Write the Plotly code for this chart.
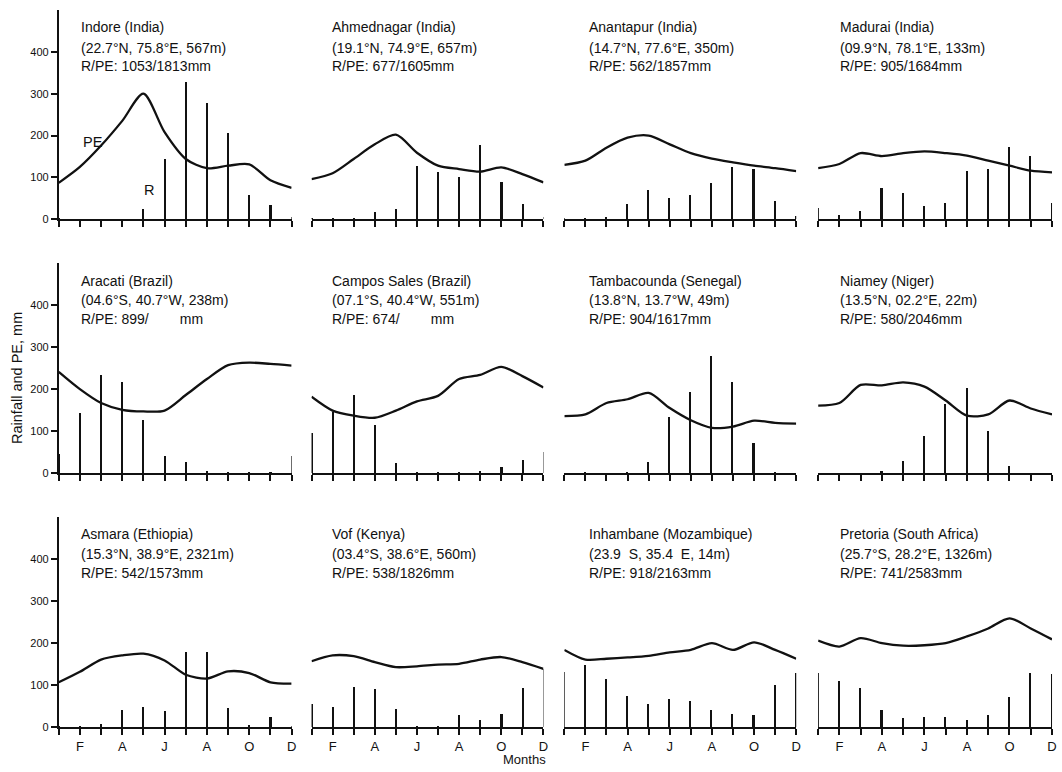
import plotly.graph_objects as go

W, H = 1062, 772

months = list(range(1, 13))
month_ticktext = ["", "F", "", "A", "", "J", "", "A", "", "O", "", "D"]
y_ticks = [0, 100, 200, 300, 400]

station_names = ["Indore (India)", "Ahmednagar (India)", "Anantapur (India)", "Madurai (India)",
                 "Aracati (Brazil)", "Campos Sales (Brazil)", "Tambacounda (Senegal)", "Niamey (Niger)",
                 "Asmara (Ethiopia)", "Vof (Kenya)", "Inhambane (Mozambique)", "Pretoria (South Africa)"]
station_coords = ["(22.7°N, 75.8°E, 567m)", "(19.1°N, 74.9°E, 657m)", "(14.7°N, 77.6°E, 350m)",
                  "(09.9°N, 78.1°E, 133m)", "(04.6°S, 40.7°W, 238m)", "(07.1°S, 40.4°W, 551m)",
                  "(13.8°N, 13.7°W, 49m)", "(13.5°N, 02.2°E, 22m)", "(15.3°N, 38.9°E, 2321m)",
                  "(03.4°S, 38.6°E, 560m)", "(23.9  S, 35.4  E, 14m)", "(25.7°S, 28.2°E, 1326m)"]
station_rpe = ["R/PE: 1053/1813mm", "R/PE: 677/1605mm", "R/PE: 562/1857mm", "R/PE: 905/1684mm",
               "R/PE: 899/        mm", "R/PE: 674/        mm", "R/PE: 904/1617mm", "R/PE: 580/2046mm",
               "R/PE: 542/1573mm", "R/PE: 538/1826mm", "R/PE: 918/2163mm", "R/PE: 741/2583mm"]

# Monthly rainfall (R), mm
indore_rain = [4, 0, 0, 0, 24, 144, 327, 278, 207, 57, 35, 5]
ahmednagar_rain = [2, 1, 3, 17, 25, 128, 112, 100, 178, 90, 37, 5]
anantapur_rain = [2, 3, 5, 37, 69, 50, 59, 86, 124, 120, 43, 8]
madurai_rain = [27, 11, 20, 75, 62, 33, 39, 116, 120, 174, 151, 39]
aracati_rain = [45, 144, 233, 218, 128, 42, 26, 5, 2, 2, 3, 41]
campos_rain = [96, 147, 186, 114, 24, 3, 2, 1, 5, 16, 31, 51]
tambacounda_rain = [0, 1, 0, 2, 28, 134, 193, 278, 218, 71, 2, 0]
niamey_rain = [0, 0, 0, 5, 30, 89, 165, 202, 100, 18, 0, 0]
asmara_rain = [2, 2, 8, 42, 49, 39, 178, 180, 45, 5, 25, 3]
voi_rain = [55, 49, 96, 90, 43, 3, 3, 29, 18, 31, 94, 139]
inhambane_rain = [132, 149, 114, 75, 55, 68, 63, 41, 31, 29, 100, 129]
pretoria_rain = [129, 111, 94, 41, 22, 24, 24, 17, 29, 73, 129, 128]

# Monthly potential evaporation (PE), mm
indore_pe = [87, 125, 176, 235, 300, 208, 144, 122, 128, 131, 93, 75]
ahmednagar_pe = [96, 110, 144, 179, 202, 159, 128, 120, 114, 124, 108, 88]
anantapur_pe = [130, 140, 171, 195, 200, 179, 158, 145, 136, 128, 122, 115]
madurai_pe = [122, 132, 158, 151, 158, 162, 158, 152, 140, 128, 116, 112]
aracati_pe = [241, 200, 167, 151, 147, 149, 186, 224, 257, 263, 260, 256]
campos_pe = [182, 149, 137, 132, 149, 171, 184, 224, 234, 253, 231, 204]
tambacounda_pe = [136, 140, 167, 176, 191, 155, 126, 108, 111, 125, 120, 118]
niamey_pe = [161, 167, 210, 209, 216, 206, 173, 137, 140, 173, 154, 140]
asmara_pe = [107, 132, 161, 171, 175, 159, 125, 116, 133, 129, 107, 104]
voi_pe = [157, 171, 169, 155, 143, 145, 149, 151, 161, 167, 155, 139]
inhambane_pe = [184, 161, 163, 166, 170, 178, 184, 200, 184, 202, 184, 163]
pretoria_pe = [206, 192, 212, 200, 194, 195, 200, 216, 235, 259, 235, 209]

rain_series = [indore_rain, ahmednagar_rain, anantapur_rain, madurai_rain,
               aracati_rain, campos_rain, tambacounda_rain, niamey_rain,
               asmara_rain, voi_rain, inhambane_rain, pretoria_rain]
pe_series = [indore_pe, ahmednagar_pe, anantapur_pe, madurai_pe,
             aracati_pe, campos_pe, tambacounda_pe, niamey_pe,
             asmara_pe, voi_pe, inhambane_pe, pretoria_pe]

# layout in pixels
col_px = [(59, 293), (313, 546), (567, 800), (822, 1057)]
row_px = [(10, 221), (265, 477), (521, 733)]  # (top=500mm, bottom=0mm)
text_x_px = [79, 332, 590, 842]
text_y_px = [(27, 48, 67), (283, 302, 322), (538, 558, 577)]

FONT = "Liberation Sans, Arial, sans-serif"
INK = "#111111"

fig = go.Figure()
annotations = []
layout_axes = {}

for i in range(12):
    r, c = divmod(i, 4)
    n = i + 1
    xa = "x" if n == 1 else f"x{n}"
    ya = "y" if n == 1 else f"y{n}"
    xkey = "xaxis" if n == 1 else f"xaxis{n}"
    ykey = "yaxis" if n == 1 else f"yaxis{n}"

    fig.add_trace(go.Bar(x=months, y=rain_series[i], width=0.075,
                         marker=dict(color=INK, line=dict(width=0)),
                         xaxis=xa, yaxis=ya, showlegend=False))
    fig.add_trace(go.Scatter(x=months, y=pe_series[i], mode="lines",
                             line=dict(color=INK, width=2.3, shape="spline", smoothing=0.8),
                             cliponaxis=False, xaxis=xa, yaxis=ya, showlegend=False))

    x0, x1 = col_px[c]
    yt, yb = row_px[r]
    layout_axes[xkey] = dict(
        domain=[x0 / W, x1 / W], range=[1, 12], anchor=ya,
        showgrid=False, zeroline=False, showline=True, linecolor=INK, linewidth=1.6,
        ticks="outside", ticklen=6, tickwidth=1.6, tickcolor=INK,
        tickvals=months, ticktext=month_ticktext if r == 2 else [""] * 12,
        tickfont=dict(family=FONT, size=13, color=INK), fixedrange=True,
    )
    layout_axes[ykey] = dict(
        domain=[1 - yb / H, 1 - yt / H], range=[0, 500], anchor=xa,
        showgrid=False, zeroline=False,
        showline=(c == 0), linecolor=INK, linewidth=1.6,
        ticks="outside" if c == 0 else "", ticklen=6, tickwidth=1.6, tickcolor=INK,
        tickvals=y_ticks, showticklabels=(c == 0),
        tickfont=dict(family=FONT, size=11, color=INK), fixedrange=True,
    )

    lines = [station_names[i], station_coords[i], station_rpe[i]]
    for k, t in enumerate(lines):
        annotations.append(dict(
            text=t.replace(" ", "\u00a0"), x=text_x_px[c] / W, y=1 - text_y_px[r][k] / H,
            xref="paper", yref="paper", xanchor="left", yanchor="middle",
            showarrow=False, font=dict(family=FONT, size=14, color=INK)))

# curve labels in first panel
annotations.append(dict(text="PE", x=93 / W, y=1 - 143 / H, xref="paper", yref="paper",
                        xanchor="center", yanchor="middle",
                        showarrow=False, font=dict(family=FONT, size=14.5, color=INK)))
annotations.append(dict(text="R", x=150 / W, y=1 - 191 / H, xref="paper", yref="paper",
                        xanchor="center", yanchor="middle",
                        showarrow=False, font=dict(family=FONT, size=14.5, color=INK)))
# axis titles
annotations.append(dict(text="Rainfall and PE, mm", x=17 / W, y=1 - 381 / H, xref="paper", yref="paper",
                        xanchor="center", yanchor="middle",
                        textangle=-90, showarrow=False, font=dict(family=FONT, size=14.5, color=INK)))
annotations.append(dict(text="Months", x=527 / W, y=1 - 765 / H, xref="paper", yref="paper",
                        xanchor="center", yanchor="middle",
                        showarrow=False, font=dict(family=FONT, size=13, color=INK)))

fig.update_layout(
    width=W, height=H, margin=dict(l=0, r=0, t=0, b=0),
    paper_bgcolor="white", plot_bgcolor="white",
    annotations=annotations, bargap=0, **layout_axes,
)

fig.write_html("out.html", config={"displayModeBar": False},
               post_script="document.body.style.margin='0';document.body.style.overflow='hidden';")
